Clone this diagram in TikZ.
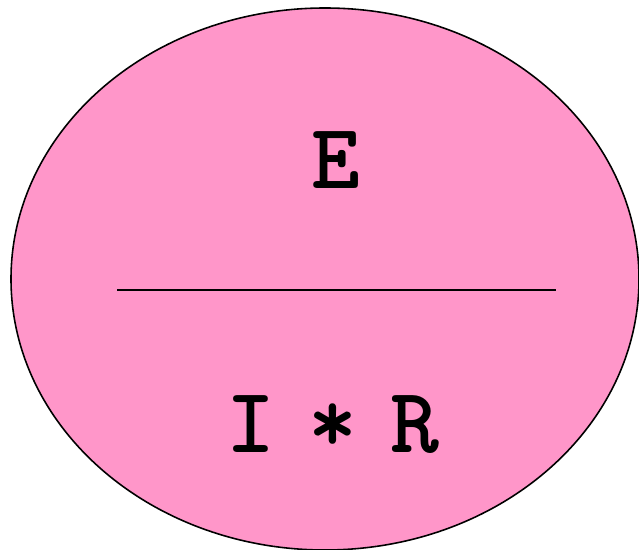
\documentclass[tikz,border=0pt]{standalone}
\usepackage{fontspec}
\newfontfamily\termfont[WordSpace=0.68]{lmmonolt10-bold.otf}
\usetikzlibrary{positioning}
\definecolor{ohmpink}{RGB}{255,150,201}

\begin{document}
\begin{tikzpicture}[x=0.02cm, y=-0.02cm,
        term/.style={font=\termfont\fontsize{53}{57}\selectfont,
                     inner sep=0pt, anchor=base},
        bar/.style={line width=0.9pt}]
      \useasboundingbox (0,0) rectangle (639,550);
      \draw[fill=ohmpink, line width=0.9pt] (325,279) ellipse [x radius=314, y radius=271];
      \node[term] (volt) at (336,189) {E};
      \node[term] (curres) at (333,453) {I * R};
      \coordinate (barl) at (117,290);
      \coordinate (barr) at (556,290);
      \draw[bar] (barl) -- (barr);
    \end{tikzpicture}
\end{document}
